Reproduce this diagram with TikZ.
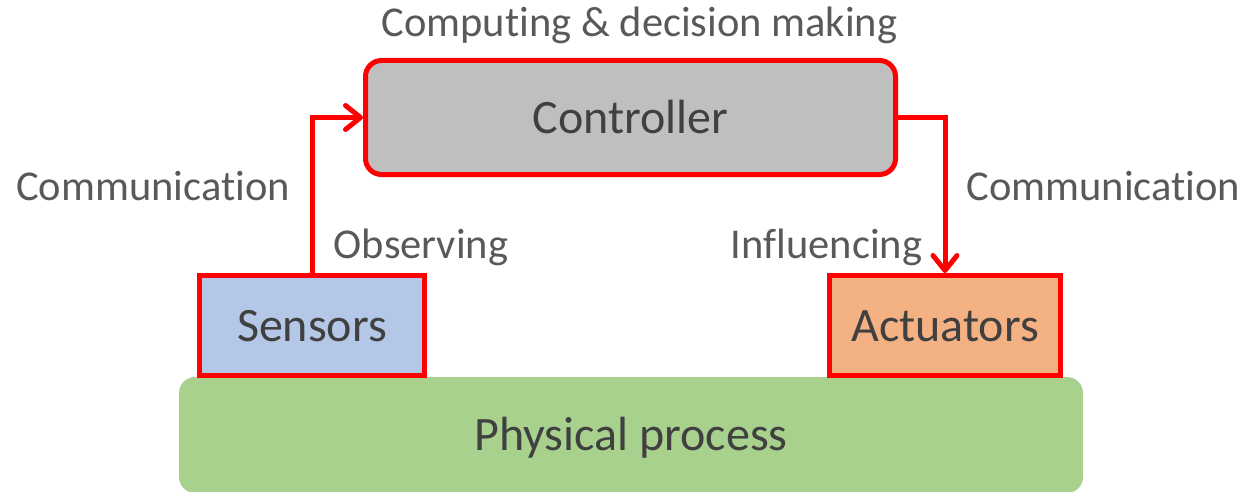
\documentclass[tikz,border=0pt]{standalone}
\usepackage{fontspec}
\setmainfont[Ligatures={NoCommon,NoContextual}]{Carlito}
\usetikzlibrary{arrows.meta}
\definecolor{cred}{HTML}{FF0000}
\definecolor{cgray}{HTML}{BFBFBF}
\definecolor{cblue}{HTML}{B4C7E7}
\definecolor{corange}{HTML}{F4B183}
\definecolor{cgreen}{HTML}{A9D18E}
\definecolor{tdark}{HTML}{404040}
\definecolor{tlight}{HTML}{595959}
\tikzset{
  box/.style={draw=cred, line width=5pt, inner sep=0pt, text=tdark,
    font=\fontsize{48}{58}\selectfont, text height=31pt, text depth=0pt},
  lbl/.style={anchor=base, inner sep=0pt, text=tlight, font=\fontsize{42.5}{50}\selectfont},
  conn/.style={draw=cred, line width=5pt,
    -{Straight Barb[length=15pt,width=24pt,line cap=round,line join=round]}}
}
\begin{document}
\begin{tikzpicture}[x=1pt,y=-1pt]
\useasboundingbox (0,0) rectangle (1244,492);
\node[fill=cgreen, rounded corners=16pt, minimum width=904pt, minimum height=116pt,
  inner sep=0pt, text=tdark, font=\fontsize{48}{58}\selectfont, text height=31pt, text depth=0pt]
  (phy) at (631,435) {Physical process};
\node[box, fill=cgray, rounded corners=16pt, minimum width=530pt, minimum height=114pt]
  (ctl) at (630.5,117.5) {Controller};
\node[box, fill=cblue, minimum width=225pt, minimum height=100pt]
  (sen) at (312,325.5) {Sensors};
\node[box, fill=corange, minimum width=231pt, minimum height=100pt]
  (act) at (945,325.5) {Actuators};
\draw[conn] (sen.north) |- (ctl.west);
\draw[conn] (ctl.east) -| (act.north);
\node[lbl] (comp) at (639.5,37) {Computing \& decision making};
\node[lbl] (comL) at (153,200) {Communication};
\node[lbl] (comR) at (1103.5,200) {Communication};
\node[lbl] (obs) at (421,258) {Observing};
\node[lbl] (inf) at (826.5,258) {Influencing};
\end{tikzpicture}
\end{document}
